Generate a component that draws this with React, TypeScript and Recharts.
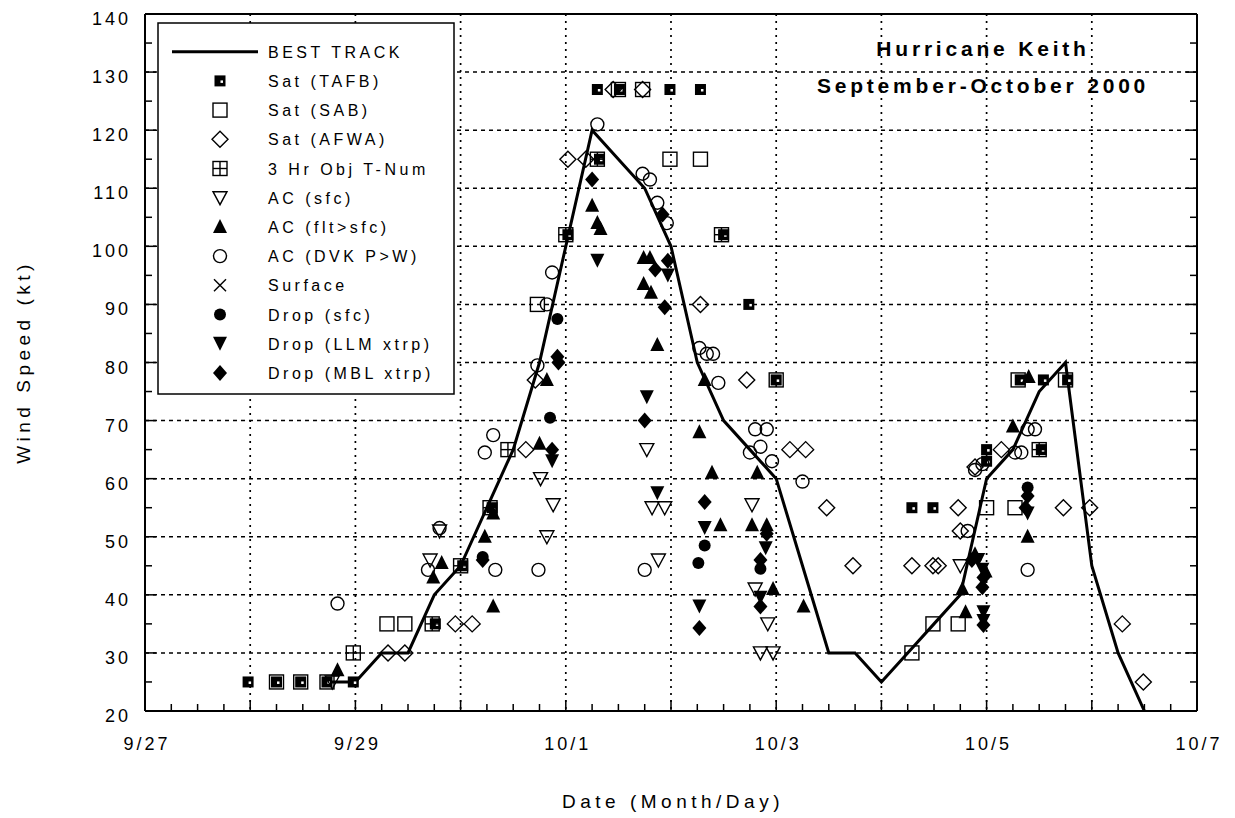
import React from "react"
import { ScatterChart, Scatter, XAxis, YAxis, CartesianGrid, Legend } from "recharts"

type Pt = [number, number]

// x = days after 9/27 00Z, y = wind speed (kt)
const dayLabels = ["9/27", "9/28", "9/29", "9/30", "10/1", "10/2", "10/3", "10/4", "10/5", "10/6", "10/7"]
const labelledDays = [0, 2, 4, 6, 8, 10]
const gridDays = [1, 2, 3, 4, 5, 6, 7, 8, 9]
const gridKts = [30, 40, 50, 60, 70, 80, 90, 100, 110, 120, 130]
const xTicks = Array.from({ length: 41 }, (_, i) => i * 0.25)
const yTicks = Array.from({ length: 25 }, (_, i) => 20 + i * 5)

const bestTrack: Pt[] = [
  [1.75, 25], [2, 25], [2.25, 30], [2.5, 30], [2.75, 40], [3, 45], [3.25, 55], [3.5, 65],
  [3.75, 80], [4, 100], [4.25, 120], [4.5, 115], [4.75, 110], [5, 100], [5.25, 80], [5.5, 70],
  [5.75, 65], [6, 60], [6.25, 45], [6.5, 30], [6.75, 30], [7, 25], [7.25, 30], [7.5, 35],
  [7.75, 40], [8, 60], [8.25, 65], [8.5, 75], [8.75, 80], [9, 45], [9.25, 30], [9.5, 20],
]

const satTafb: Pt[] = [
  [0.98, 25], [1.25, 25], [1.48, 25], [1.73, 25], [1.98, 25], [2.76, 35], [3.02, 45], [3.3, 55],
  [4.02, 102], [4.32, 115], [4.3, 127], [4.51, 127], [4.99, 127], [5.28, 127], [5.5, 102],
  [5.74, 90], [6.0, 77], [7.29, 55], [7.49, 55], [8.0, 65], [8.0, 63], [8.32, 77], [8.54, 77],
  [8.77, 77], [8.52, 65],
]

const satSab: Pt[] = [
  [1.25, 25], [1.48, 25], [1.73, 25], [2.3, 35], [2.47, 35], [3.73, 90], [4.5, 127], [4.73, 127],
  [4.99, 115], [5.28, 115], [6.0, 77], [7.29, 30], [7.49, 35], [7.73, 35], [8.0, 55], [8.27, 55],
  [8.3, 77], [8.75, 77],
]

const satAfwa: Pt[] = [
  [2.31, 30], [2.47, 30], [2.95, 35], [3.11, 35], [3.62, 65], [3.71, 77], [4.02, 115], [4.19, 115],
  [4.45, 127], [4.73, 127], [5.28, 90], [5.72, 77], [6.13, 65], [6.28, 65], [6.48, 55], [6.73, 45],
  [7.29, 45], [7.49, 45], [7.54, 45], [7.73, 55], [7.75, 51], [7.89, 62], [8.14, 65], [8.73, 55],
  [8.98, 55], [9.29, 35], [9.49, 25],
]

const objTNum: Pt[] = [
  [1.98, 30], [2.73, 35], [3.0, 45], [3.28, 55], [3.45, 65], [4.0, 102], [4.3, 115], [5.48, 102],
  [8.5, 65],
]

const acSfc: Pt[] = [
  [1.78, 25], [2.8, 51], [2.71, 46], [3.76, 60], [3.88, 55.5], [3.82, 50], [4.77, 65], [4.82, 55],
  [4.94, 55], [4.88, 46], [5.77, 55.5], [5.8, 41], [5.92, 35], [5.85, 30], [5.97, 30], [7.75, 45],
]

const acFlt: Pt[] = [
  [1.83, 27], [2.82, 45.5], [2.74, 43], [3.31, 54], [3.23, 50], [3.31, 38], [3.75, 66], [3.82, 77],
  [4.25, 107], [4.3, 104], [4.33, 103], [4.74, 98], [4.8, 98], [4.74, 93.5], [4.81, 92], [4.87, 83],
  [5.32, 77], [5.27, 68], [5.39, 61], [5.82, 61], [5.47, 52], [5.77, 52], [5.91, 52], [5.97, 41],
  [6.26, 38], [8.4, 77.5], [8.25, 69], [7.89, 47], [7.99, 44], [7.77, 41], [7.8, 37], [8.39, 50],
]

const acDvk: Pt[] = [
  [1.83, 38.5], [2.8, 51.5], [2.69, 44.3], [3.31, 67.5], [3.23, 64.5], [3.33, 44.3], [3.87, 95.5],
  [3.82, 90], [3.73, 79.5], [3.74, 44.3], [4.3, 121], [4.73, 112.5], [4.8, 111.5], [4.87, 107.5],
  [4.96, 104], [5.27, 82.5], [5.34, 81.5], [5.4, 81.5], [5.45, 76.5], [5.8, 68.5], [5.91, 68.5],
  [5.85, 65.5], [5.75, 64.5], [5.96, 63], [6.25, 59.5], [4.75, 44.3], [7.82, 51], [8.39, 68.5],
  [8.46, 68.5], [8.27, 64.5], [8.33, 64.5], [7.96, 62.5], [7.89, 61.5], [8.39, 44.3],
]

const surface: Pt[] = []

const dropSfc: Pt[] = [
  [3.21, 46.5], [3.92, 87.5], [3.85, 70.5], [5.32, 48.5], [5.26, 45.5], [5.85, 44.5], [8.39, 58.5],
]

const dropLlm: Pt[] = [
  [3.87, 63], [4.3, 97.5], [4.77, 74], [4.87, 57.5], [4.97, 95], [5.32, 51.5], [5.27, 38], [5.9, 48],
  [5.85, 39.5], [8.39, 54], [7.92, 46], [7.96, 44.3], [7.97, 37], [7.97, 35.5],
]

const dropMbl: Pt[] = [
  [3.21, 46], [3.87, 65], [3.92, 81], [3.93, 80], [4.25, 111.5], [4.92, 105.5], [4.94, 89.5],
  [4.85, 96], [4.97, 97.5], [4.75, 70], [5.32, 56], [5.27, 34.3], [5.91, 50.5], [5.85, 46],
  [5.85, 38], [8.39, 57], [8.37, 55], [7.86, 46], [7.97, 43], [7.96, 41.3], [7.97, 34.8],
]

const series = [
  { name: "Sat (TAFB)", kind: "tafb", pts: satTafb },
  { name: "Sat (SAB)", kind: "sab", pts: satSab },
  { name: "Sat (AFWA)", kind: "afwa", pts: satAfwa },
  { name: "3 Hr Obj T-Num", kind: "obj", pts: objTNum },
  { name: "AC (sfc)", kind: "acsfc", pts: acSfc },
  { name: "AC (flt>sfc)", kind: "acflt", pts: acFlt },
  { name: "AC (DVK P>W)", kind: "dvk", pts: acDvk },
  { name: "Surface", kind: "surface", pts: surface },
  { name: "Drop (sfc)", kind: "dropsfc", pts: dropSfc },
  { name: "Drop (LLM xtrp)", kind: "dropllm", pts: dropLlm },
  { name: "Drop (MBL xtrp)", kind: "dropmbl", pts: dropMbl },
]

const toRows = (pts: Pt[]) => pts.map(([d, kt]) => ({ d, kt }))

const FONT = '"Liberation Sans", Arial, sans-serif'
const tickFont = { fontFamily: FONT, fontSize: 18, letterSpacing: 3, fill: "#000" }

function Marker({ kind, cx, cy }: { kind: string; cx: number; cy: number }) {
  const o = { stroke: "#000", strokeWidth: 1.4, fill: "none" }
  switch (kind) {
    case "tafb":
      return (
        <g>
          <rect x={cx - 5.5} y={cy - 5.5} width={11} height={11} fill="#000" />
          <rect x={cx + 0.5} y={cy - 0.5} width={2.5} height={2.5} fill="#fff" />
        </g>
      )
    case "sab":
      return <rect x={cx - 7} y={cy - 7} width={14} height={14} {...o} />
    case "obj":
      return (
        <g>
          <rect x={cx - 7} y={cy - 7} width={14} height={14} {...o} />
          <line x1={cx} x2={cx} y1={cy - 7} y2={cy + 7} {...o} />
          <line x1={cx - 7} x2={cx + 7} y1={cy} y2={cy} {...o} />
        </g>
      )
    case "afwa":
      return <polygon points={`${cx},${cy - 8} ${cx + 8},${cy} ${cx},${cy + 8} ${cx - 8},${cy}`} {...o} />
    case "acsfc":
      return <polygon points={`${cx - 7},${cy - 6} ${cx + 7},${cy - 6} ${cx},${cy + 7}`} {...o} />
    case "acflt":
      return <polygon points={`${cx},${cy - 8} ${cx + 7},${cy + 6} ${cx - 7},${cy + 6}`} fill="#000" />
    case "dvk":
      return <circle cx={cx} cy={cy} r={6.5} {...o} />
    case "surface":
      return (
        <g>
          <line x1={cx - 6} x2={cx + 6} y1={cy - 6} y2={cy + 6} {...o} />
          <line x1={cx - 6} x2={cx + 6} y1={cy + 6} y2={cy - 6} {...o} />
        </g>
      )
    case "dropsfc":
      return <circle cx={cx} cy={cy} r={6} fill="#000" />
    case "dropllm":
      return <polygon points={`${cx - 7},${cy - 7} ${cx + 7},${cy - 7} ${cx},${cy + 7}`} fill="#000" />
    case "dropmbl":
      return <polygon points={`${cx},${cy - 8} ${cx + 7},${cy} ${cx},${cy + 8} ${cx - 7},${cy}`} fill="#000" />
    default:
      return <g />
  }
}

const shapeFor = (kind: string) => (p: any) => <Marker kind={kind} cx={p.cx} cy={p.cy} />
const NoShape = () => <g />

const isWhole = (v: number) => Math.abs(v - Math.round(v)) < 1e-6

const BottomTick = ({ x, y, payload }: any) => {
  const v = payload.value
  const whole = isWhole(v)
  const label = whole && labelledDays.includes(Math.round(v)) ? dayLabels[Math.round(v)] : null
  return (
    <g>
      <line x1={x} x2={x} y1={y} y2={y - (whole ? 11 : 7)} stroke="#000" strokeWidth={1.5} />
      {label && (
        <text x={x + 2} y={y + 39} textAnchor="middle" style={tickFont}>
          {label}
        </text>
      )}
    </g>
  )
}

const TopTick = ({ x, y, payload }: any) => (
  <line x1={x} x2={x} y1={y} y2={y + (isWhole(payload.value) ? 11 : 7)} stroke="#000" strokeWidth={1.5} />
)

const LeftTick = ({ x, y, payload }: any) => {
  const v = payload.value
  const major = v % 10 === 0
  return (
    <g>
      <line x1={x} x2={x + (major ? 11 : 7)} y1={y} y2={y} stroke="#000" strokeWidth={1.5} />
      {major && (
        <text x={x - 14} y={y + 11} textAnchor="end" style={tickFont}>
          {v}
        </text>
      )}
    </g>
  )
}

const RightTick = ({ x, y, payload }: any) => (
  <line x1={x} x2={x - (payload.value % 10 === 0 ? 11 : 7)} y1={y} y2={y} stroke="#000" strokeWidth={1.5} />
)

const LegendBox = () => (
  <svg width={298} height={373} style={{ display: "block" }}>
    <rect x={1} y={1} width={296} height={371} fill="#fff" stroke="#000" strokeWidth={1.5} />
    <line x1={15} x2={101} y1={29.7} y2={29.7} stroke="#000" strokeWidth={3} />
    <text x={111} y={35.7} style={{ fontFamily: FONT, fontSize: 16, letterSpacing: 3.5 }}>
      BEST TRACK
    </text>
    {series.map((s, i) => {
      const cy = 29.7 + (i + 1) * 29.2
      return (
        <g key={s.name}>
          <Marker kind={s.kind} cx={63} cy={cy} />
          <text x={111} y={cy + 6} style={{ fontFamily: FONT, fontSize: 16, letterSpacing: 3.5 }}>
            {s.name}
          </text>
        </g>
      )
    })}
  </svg>
)

export default function App() {
  return (
    <div style={{ position: "absolute", left: 0, top: 0, background: "#fff" }}>
      <ScatterChart width={1235} height={818} margin={{ top: 13, right: 37, bottom: 67, left: 85 }}>
        <CartesianGrid horizontal={false} verticalValues={gridDays} stroke="#000" strokeWidth={1.7} strokeDasharray="2 5" />
        <CartesianGrid vertical={false} horizontalValues={gridKts} stroke="#000" strokeWidth={1.5} strokeDasharray="4 4" />
        <XAxis
          type="number"
          dataKey="d"
          domain={[0, 10]}
          ticks={xTicks}
          interval={0}
          height={40}
          tickSize={0}
          tickMargin={0}
          tick={<BottomTick />}
          tickLine={false}
          axisLine={{ stroke: "#000", strokeWidth: 2 }}
          allowDataOverflow
          label={{
            content: ({ viewBox }: any) => (
              <text
                x={viewBox.x + viewBox.width / 2 + 2}
                y={808}
                textAnchor="middle"
                style={{ fontFamily: FONT, fontSize: 19, letterSpacing: 4.5 }}
              >
                Date (Month/Day)
              </text>
            ),
          }}
        />
        <XAxis
          xAxisId="top"
          orientation="top"
          type="number"
          domain={[0, 10]}
          ticks={xTicks}
          interval={0}
          height={1}
          tickSize={0}
          tickMargin={0}
          tick={<TopTick />}
          tickLine={false}
          axisLine={{ stroke: "#000", strokeWidth: 2 }}
          allowDataOverflow
          label={{
            content: () => (
              <g style={{ fontFamily: FONT, fontSize: 21, fontWeight: 700, letterSpacing: 3.8 }}>
                <text x={983} y={56} textAnchor="middle">
                  Hurricane Keith
                </text>
                <text x={983} y={93} textAnchor="middle">
                  September-October 2000
                </text>
              </g>
            ),
          }}
        />
        <YAxis
          type="number"
          dataKey="kt"
          domain={[20, 140]}
          ticks={yTicks}
          interval={0}
          width={60}
          tickSize={0}
          tickMargin={0}
          tick={<LeftTick />}
          tickLine={false}
          axisLine={{ stroke: "#000", strokeWidth: 2 }}
          allowDataOverflow
          label={{
            content: () => (
              <text
                x={30}
                y={362}
                transform="rotate(-90, 30, 362)"
                textAnchor="middle"
                style={{ fontFamily: FONT, fontSize: 19, letterSpacing: 4.5 }}
              >
                Wind Speed (kt)
              </text>
            ),
          }}
        />
        <YAxis
          yAxisId="right"
          orientation="right"
          type="number"
          domain={[20, 140]}
          ticks={yTicks}
          interval={0}
          width={1}
          tickSize={0}
          tickMargin={0}
          tick={<RightTick />}
          tickLine={false}
          axisLine={{ stroke: "#000", strokeWidth: 2 }}
          allowDataOverflow
        />
        <Legend
          layout="vertical"
          align="center"
          verticalAlign="middle"
          wrapperStyle={{ left: 157, top: 22, width: 298, height: 373 }}
          content={() => <LegendBox />}
        />
        <Scatter
          name="BEST TRACK"
          data={toRows(bestTrack)}
          line={{ stroke: "#000", strokeWidth: 3 }}
          shape={NoShape}
          isAnimationActive={false}
        />
        {series.map((s) => (
          <Scatter
            key={s.name}
            name={s.name}
            data={toRows(s.pts)}
            shape={shapeFor(s.kind)}
            isAnimationActive={false}
          />
        ))}
      </ScatterChart>
    </div>
  )
}
